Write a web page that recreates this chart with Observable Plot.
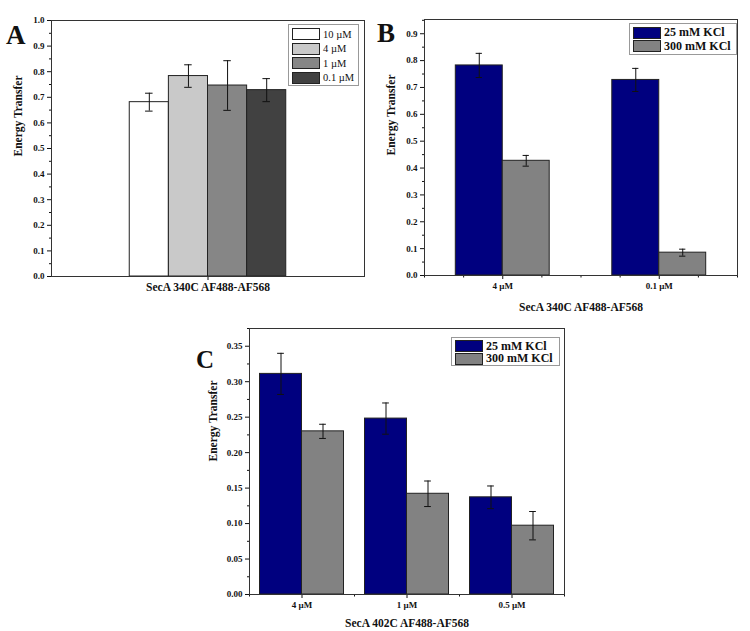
<!DOCTYPE html>
<html>
<head>
<meta charset="utf-8">
<script src="https://cdn.jsdelivr.net/npm/d3@7"></script>
<script src="https://cdn.jsdelivr.net/npm/@observablehq/plot@0.6"></script>
<style>
  html, body { margin: 0; padding: 0; background: #fff; }
  #root { position: relative; width: 750px; height: 631px; background: #fff; overflow: hidden;
          font-family: "Liberation Serif", "Times New Roman", serif; }
  .panel { position: absolute; }
  .letter { position: absolute; font-weight: bold; font-size: 27px; line-height: 27px; color: #111; }
  .legend { position: absolute; border: 1px solid #999; background: #fff; box-sizing: border-box; padding: 2px 3px; }
  .legend .row { display: flex; align-items: center; height: 15px; }
  .legend .sw { width: 26px; height: 10px; border: 1px solid #222; margin-right: 3px; flex: none; }
  .legend .lab { white-space: nowrap; color: #111; }
</style>
</head>
<body>
<div id="root"></div>
<script>
// ---------- DATA ----------
// Panel A
const concA = ["10 µM", "4 µM", "1 µM", "0.1 µM"];
const energyA = [0.681, 0.783, 0.746, 0.728];
const errA = [0.035, 0.044, 0.097, 0.045];
// Panel B
const concB = ["4 µM", "0.1 µM"];
const lowSaltB = [0.782, 0.728];
const lowSaltErrB = [0.045, 0.043];
const highSaltB = [0.427, 0.085];
const highSaltErrB = [0.020, 0.013];
// Panel C
const concC = ["4 µM", "1 µM", "0.5 µM"];
const lowSaltC = [0.311, 0.248, 0.137];
const lowSaltErrC = [0.029, 0.022, 0.016];
const highSaltC = [0.230, 0.142, 0.097];
const highSaltErrC = [0.010, 0.018, 0.020];
// Labels
const saltLabels = ["25 mM KCl", "300 mM KCl"];
const yLabel = "Energy Transfer";
const xLabelA = "SecA 340C AF488-AF568";
const xLabelB = "SecA 340C AF488-AF568";
const xLabelC = "SecA 402C AF488-AF568";
const yTicksA = [0, 0.1, 0.2, 0.3, 0.4, 0.5, 0.6, 0.7, 0.8, 0.9, 1.0];
const yTicksB = [0, 0.1, 0.2, 0.3, 0.4, 0.5, 0.6, 0.7, 0.8, 0.9];
const yTicksC = [0, 0.05, 0.10, 0.15, 0.20, 0.25, 0.30, 0.35];

// ---------- STYLES ----------
const colorsA = ["#ffffff", "#c9c9c9", "#868686", "#414141"];
const saltColors = ["#00007f", "#828282"];
const FONT = "'Liberation Serif', 'Times New Roman', serif";

const root = document.getElementById("root");
function place(el, left, top) {
  el.classList.add("panel");
  el.style.left = left + "px";
  el.style.top = top + "px";
  root.appendChild(el);
}
function minorTicks(lo, hi, step, majorStep) {
  const out = [];
  for (let v = lo; v <= hi + 1e-9; v += step) {
    const r = Math.round(v / majorStep * 1000) / 1000;
    if (Math.abs(r - Math.round(r)) > 1e-6) out.push(+v.toFixed(4));
  }
  return out;
}
function errorMarks(table, cap) {
  return [
    Plot.ruleX(table, {x: "xc", y1: d => d.v - d.e, y2: d => d.v + d.e, stroke: "#111", strokeWidth: 1}),
    Plot.ruleY(table, {y: d => d.v + d.e, x1: d => d.xc - cap, x2: d => d.xc + cap, stroke: "#111", strokeWidth: 1}),
    Plot.ruleY(table, {y: d => d.v - d.e, x1: d => d.xc - cap, x2: d => d.xc + cap, stroke: "#111", strokeWidth: 1})
  ];
}

// ---------- PANEL A ----------
const wA = 0.125;
const tableA = concA.map((c, i) => ({
  conc: c, v: energyA[i], e: errA[i],
  x1: 1 - 2 * wA + i * wA, x2: 1 - 2 * wA + (i + 1) * wA, xc: 1 - 2 * wA + (i + 0.5) * wA
}));
const plotA = Plot.plot({
  width: 375, height: 305,
  marginLeft: 51, marginRight: 11, marginTop: 20, marginBottom: 29,
  x: {domain: [0.5, 1.5], axis: null},
  y: {domain: [0, 1.0], axis: null},
  color: {domain: concA, range: colorsA},
  style: {fontFamily: FONT, background: "transparent", color: "#111"},
  marks: [
    Plot.rect(tableA, {x1: "x1", x2: "x2", y1: 0, y2: "v", fill: "conc", stroke: "#222", strokeWidth: 1}),
    ...errorMarks(tableA, 0.012),
    Plot.axisY({ticks: yTicksA, tickSize: 4, tickPadding: 3, tickFormat: d3.format(".1f"), fontWeight: "bold", fontSize: 9, label: null}),
    Plot.axisY({ticks: minorTicks(0, 1.0, 0.05, 0.1), tickSize: 2, tickFormat: () => "", label: null}),
    Plot.axisX({ticks: [1], tickSize: 4, tickFormat: () => "", label: null}),
    Plot.frame({stroke: "#333"}),
    Plot.text([xLabelA], {frameAnchor: "bottom", dy: 14, text: d => d, fontWeight: "bold", fontSize: 11.5}),
    Plot.text([yLabel], {frameAnchor: "left", rotate: -90, dx: -33, dy: 8, text: d => d, fontWeight: "bold", fontSize: 11.5})
  ]
});
place(plotA, 0, 0);

// ---------- PANEL B ----------
const wB = 0.3;
const tableB = [];
concB.forEach((c, i) => {
  const g = i + 1;
  tableB.push({conc: c, salt: saltLabels[0], v: lowSaltB[i], e: lowSaltErrB[i], x1: g - wB, x2: g, xc: g - wB / 2});
  tableB.push({conc: c, salt: saltLabels[1], v: highSaltB[i], e: highSaltErrB[i], x1: g, x2: g + wB, xc: g + wB / 2});
});
const plotB = Plot.plot({
  width: 375, height: 320,
  marginLeft: 49, marginRight: 13, marginTop: 19, marginBottom: 45,
  x: {domain: [0.5, 2.5], axis: null},
  y: {domain: [0, 0.953], axis: null},
  color: {domain: saltLabels, range: saltColors},
  style: {fontFamily: FONT, background: "transparent", color: "#111"},
  marks: [
    Plot.rect(tableB, {x1: "x1", x2: "x2", y1: 0, y2: "v", fill: "salt", stroke: "#222", strokeWidth: 1}),
    ...errorMarks(tableB, 0.02),
    Plot.axisY({ticks: yTicksB, tickSize: 4, tickPadding: 3, tickFormat: d3.format(".1f"), fontWeight: "bold", fontSize: 9, label: null}),
    Plot.axisY({ticks: minorTicks(0, 0.95, 0.05, 0.1), tickSize: 2, tickFormat: () => "", label: null}),
    Plot.axisX({ticks: [1, 2], tickSize: 4, tickPadding: 3, tickFormat: d => concB[d - 1], fontWeight: "bold", fontSize: 9, label: null}),
    Plot.axisX({ticks: [0.5, 0.75, 1.25, 1.5, 1.75, 2.25, 2.5], tickSize: 2.5, tickFormat: () => "", label: null}),
    Plot.frame({stroke: "#333"}),
    Plot.text([xLabelB], {frameAnchor: "bottom", dy: 35, text: d => d, fontWeight: "bold", fontSize: 11.5}),
    Plot.text([yLabel], {frameAnchor: "left", rotate: -90, dx: -33, dy: 8, text: d => d, fontWeight: "bold", fontSize: 11.5})
  ]
});
place(plotB, 375, 0);

// ---------- PANEL C ----------
const wC = 0.4;
const tableC = [];
concC.forEach((c, i) => {
  const g = i + 1;
  tableC.push({conc: c, salt: saltLabels[0], v: lowSaltC[i], e: lowSaltErrC[i], x1: g - wC, x2: g, xc: g - wC / 2});
  tableC.push({conc: c, salt: saltLabels[1], v: highSaltC[i], e: highSaltErrC[i], x1: g, x2: g + wC, xc: g + wC / 2});
});
const plotC = Plot.plot({
  width: 400, height: 321,
  marginLeft: 69, marginRight: 16, marginTop: 18, marginBottom: 37,
  x: {domain: [0.5, 3.5], axis: null},
  y: {domain: [0, 0.375], axis: null},
  color: {domain: saltLabels, range: saltColors},
  style: {fontFamily: FONT, background: "transparent", color: "#111"},
  marks: [
    Plot.rect(tableC, {x1: "x1", x2: "x2", y1: 0, y2: "v", fill: "salt", stroke: "#222", strokeWidth: 1}),
    ...errorMarks(tableC, 0.032),
    Plot.axisY({ticks: yTicksC, tickSize: 4, tickPadding: 3, tickFormat: d3.format(".2f"), fontWeight: "bold", fontSize: 9, label: null}),
    Plot.axisY({ticks: minorTicks(0, 0.375, 0.025, 0.05), tickSize: 2, tickFormat: () => "", label: null}),
    Plot.axisX({ticks: [1, 2, 3], tickSize: 4, tickPadding: 3, tickFormat: d => concC[d - 1], fontWeight: "bold", fontSize: 9, label: null}),
    Plot.axisX({ticks: [0.5, 1.5, 2.5, 3.5], tickSize: 2.5, tickFormat: () => "", label: null}),
    Plot.frame({stroke: "#333"}),
    Plot.text([xLabelC], {frameAnchor: "bottom", dy: 32, text: d => d, fontWeight: "bold", fontSize: 11.5}),
    Plot.text([yLabel], {frameAnchor: "left", rotate: -90, dx: -36, text: d => d, fontWeight: "bold", fontSize: 11.5})
  ]
});
place(plotC, 180, 310);

// ---------- LETTERS ----------
function letter(t, left, top, size) {
  const d = document.createElement("div");
  d.className = "letter";
  d.textContent = t;
  d.style.left = left + "px";
  d.style.top = top + "px";
  if (size) { d.style.fontSize = size + "px"; d.style.lineHeight = size + "px"; }
  root.appendChild(d);
}
letter("A", 6, 22);
letter("B", 377, 20);
letter("C", 196, 347, 25);

// ---------- LEGENDS ----------
function legend(labels, colors, left, top, width, height, fontSize, bold, rowH) {
  const box = document.createElement("div");
  box.className = "legend";
  Object.assign(box.style, {left: left + "px", top: top + "px", width: width + "px", height: height + "px"});
  labels.forEach((l, i) => {
    const row = document.createElement("div");
    row.className = "row";
    row.style.height = rowH + "px";
    const sw = document.createElement("div");
    sw.className = "sw";
    sw.style.background = colors[i];
    const lab = document.createElement("div");
    lab.className = "lab";
    lab.textContent = l;
    lab.style.fontSize = fontSize + "px";
    lab.style.fontWeight = bold ? "bold" : "normal";
    row.appendChild(sw);
    row.appendChild(lab);
    box.appendChild(row);
  });
  root.appendChild(box);
}
legend(concA, colorsA, 288, 24, 71, 62, 10.5, false, 14.5);
legend(saltLabels, saltColors, 629, 23, 108, 32, 12, true, 13.5);
legend(saltLabels, saltColors, 451, 337, 109, 29, 12, true, 12.5);
</script>
</body>
</html>
